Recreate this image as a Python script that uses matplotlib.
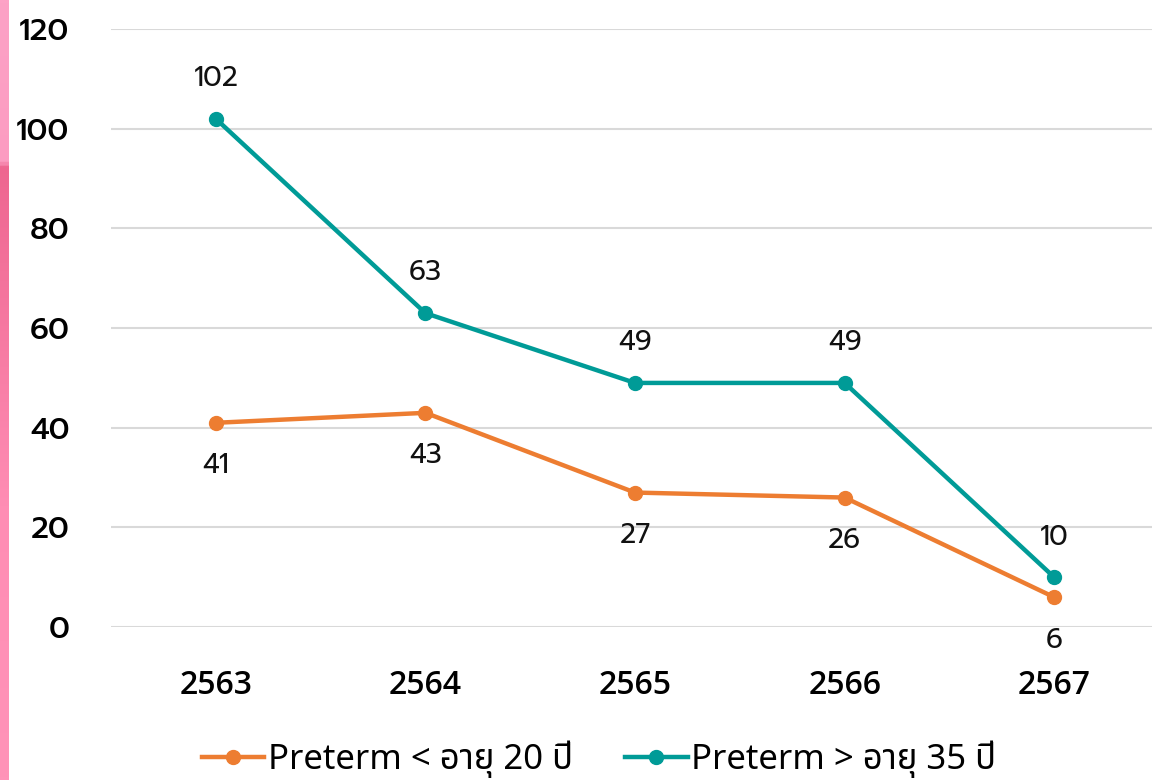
import numpy as np
import matplotlib
matplotlib.use("Agg")
import matplotlib.pyplot as plt
from matplotlib.colors import LinearSegmentedColormap

years = ["2563", "2564", "2565", "2566", "2567"]
under20 = [41, 43, 27, 26, 6]
over35 = [102, 63, 49, 49, 10]
yticks = [0, 20, 40, 60, 80, 100, 120]

orange = "#ED7D31"
teal = "#009B97"

fig = plt.figure(figsize=(11.52, 7.8), dpi=100)

# pink strip down the left edge
strip = fig.add_axes([0, 0, 9 / 1152, 1])
grad = np.linspace(0, 1, 400).reshape(-1, 1)
cmap = LinearSegmentedColormap.from_list(
    "strip", [(0, "#FF93B8"), (0.35, "#FF8DB4"), (0.788, "#EE6690"),
              (0.795, "#FC9CC1"), (1, "#FDA2C6")])
strip.imshow(grad, aspect="auto", cmap=cmap, origin="lower", extent=[0, 1, 0, 1])
strip.axis("off")

ax = fig.add_axes([0.0964, 0.196, 0.9097, 0.7667])
x = np.arange(len(years))
ax.plot(x, under20, color=orange, lw=3.2, marker="o", ms=10, label="Preterm < อายุ 20 ปี", zorder=3)
ax.plot(x, over35, color=teal, lw=3.2, marker="o", ms=10, label="Preterm > อายุ 35 ปี", zorder=3)

for xi, v in zip(x, over35):
    ax.annotate(str(v), (xi, v), xytext=(0, 29), textcoords="offset points",
                ha="center", va="center", fontsize=20, family="Prompt", color="#111111")
for xi, v in zip(x, under20):
    ax.annotate(str(v), (xi, v), xytext=(0, -31), textcoords="offset points",
                ha="center", va="center", fontsize=20, family="Prompt", color="#111111")

ax.set_xlim(-0.5, 4.5)
ax.set_ylim(0, 120)
ax.set_xticks(x, years)
ax.set_yticks(yticks)
ax.grid(axis="y", color="#D9D9D9", lw=1.5)
ax.set_axisbelow(True)
for s in ax.spines.values():
    s.set_visible(False)
ax.tick_params(length=0)
ax.tick_params(axis="x", pad=30)
ax.tick_params(axis="y", pad=30)
for lab in ax.get_xticklabels():
    lab.set_family("Open Sans")
    lab.set_fontweight("semibold")
    lab.set_fontsize(23)
for lab in ax.get_yticklabels():
    lab.set_family("Prompt")
    lab.set_fontweight("medium")
    lab.set_fontsize(22)

fig.legend(loc="center", bbox_to_anchor=(0.52, 0.026), ncol=2, frameon=False,
           prop={"family": ["Noto Sans", "Noto Sans Thai"], "size": 25},
           handlelength=1.8, handletextpad=0.1, columnspacing=1.5)

fig.savefig("out.png")
